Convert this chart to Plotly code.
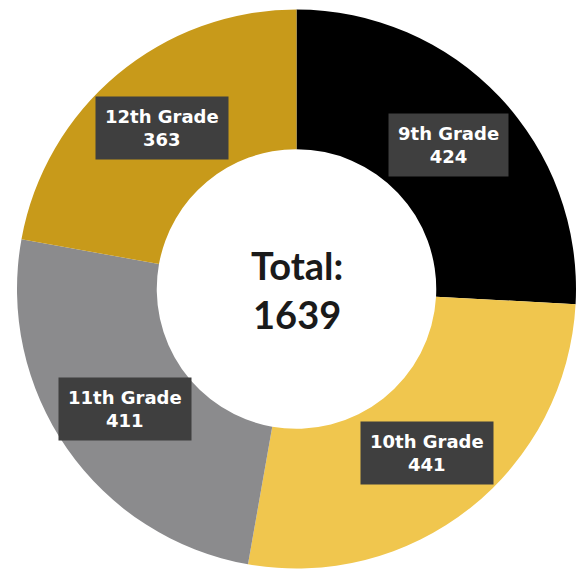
import math
import plotly.graph_objects as go

categories = ["9th Grade", "10th Grade", "11th Grade", "12th Grade"]
counts = [424, 441, 411, 363]
colors = ["#000000", "#F0C64E", "#8B8B8D", "#C89A1A"]
total_label = "Total:"

W, H = 576, 573
dom_x = [17 / W, 1.0]
dom_y = [4 / H, 564 / H]
hole = 0.5

fig = go.Figure(go.Pie(
    labels=categories,
    values=counts,
    sort=False,
    direction="clockwise",
    rotation=0,
    hole=hole,
    marker=dict(colors=colors, line=dict(width=0)),
    textinfo="none",
    hoverinfo="label+value",
    domain=dict(x=dom_x, y=dom_y),
    showlegend=False,
))

# geometry of the pie in pixels (derived from domain)
cx_px = (dom_x[0] + dom_x[1]) / 2 * W
cy_px = (dom_y[0] + dom_y[1]) / 2 * H
R = min((dom_x[1] - dom_x[0]) * W, (dom_y[1] - dom_y[0]) * H) / 2
r_lab = R * (1 + hole) / 2

tot = sum(counts)
annotations = []
start = 90.0
for name, v in zip(categories, counts):
    span = v / tot * 360.0
    mid = math.radians(start - span / 2)
    start -= span
    x = (cx_px + r_lab * math.cos(mid)) / W
    y = (cy_px + r_lab * math.sin(mid)) / H
    annotations.append(dict(
        x=x, y=y, xref="paper", yref="paper",
        xanchor="center", yanchor="middle",
        text=f"{name}<br>{v}",
        showarrow=False,
        font=dict(family="DejaVu Sans", size=18, color="white", weight="bold"),
        bgcolor="#3F3F3F",
        borderpad=9,
        align="center",
    ))

annotations.append(dict(
    x=cx_px / W, y=cy_px / H, xref="paper", yref="paper",
    xanchor="center", yanchor="middle",
    text=f"{total_label}<br>{tot}",
    showarrow=False,
    font=dict(family="Lato", size=38, color="#1A1A1A", weight="bold"),
    align="center",
))

fig.update_layout(
    width=W, height=H,
    margin=dict(l=0, r=0, t=0, b=0),
    paper_bgcolor="white",
    plot_bgcolor="white",
    annotations=annotations,
)

fig.write_html(
    "out.html",
    config={"displayModeBar": False},
    post_script="document.body.style.margin='0';",
)
